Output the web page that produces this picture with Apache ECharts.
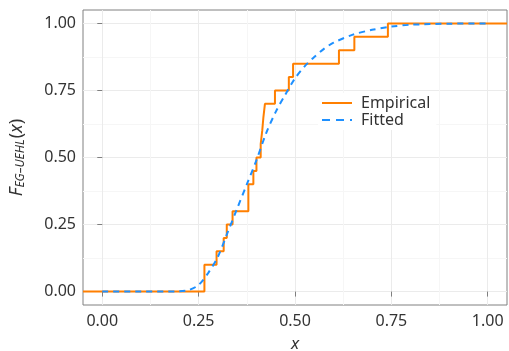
<!DOCTYPE html>
<html><head><meta charset="utf-8">
<script src="https://cdn.jsdelivr.net/npm/echarts@6/dist/echarts.min.js"></script>
<style>html,body{margin:0;padding:0;background:#fff}#c{width:509px;height:351px}</style>
</head><body><div id="c"></div>
<script>
// Empirical CDF jump points (x) and CDF values after each jump
const ecdfX = [-0.05, 0.265, 0.2965, 0.315, 0.323, 0.338, 0.379, 0.392, 0.400, 0.411, 0.415, 0.418, 0.422, 0.448, 0.484, 0.495, 0.614, 0.654, 0.741, 1.05];
const ecdfY = [0, 0.10, 0.15, 0.20, 0.25, 0.30, 0.40, 0.45, 0.50, 0.55, 0.60, 0.65, 0.70, 0.75, 0.80, 0.85, 0.90, 0.95, 1.00, 1.00];
// Fitted CDF
const fitX = [0, 0.1, 0.2, 0.225, 0.25, 0.275, 0.3, 0.325, 0.35, 0.375, 0.4, 0.425, 0.45, 0.475, 0.5, 0.525, 0.55, 0.575, 0.6, 0.65, 0.7, 0.75, 0.8, 0.9, 1.0];
const fitY = [0, 0, 0.001, 0.006, 0.025, 0.07, 0.13, 0.22, 0.31, 0.40, 0.49, 0.59, 0.67, 0.735, 0.795, 0.84, 0.875, 0.905, 0.928, 0.958, 0.976, 0.988, 0.995, 0.999, 1.0];
const majorTicks = [0, 0.25, 0.5, 0.75, 1.0];
const minorTicks = [0.125, 0.375, 0.625, 0.875];
const tickLabels = ['0.00', '0.25', '0.50', '0.75', '1.00'];
const seriesNames = ['Empirical', 'Fitted'];

const FONT = 'Noto Sans';
const fmt = v => { const i = majorTicks.findIndex(t => Math.abs(t - v) < 1e-9); return i >= 0 ? tickLabels[i] : ''; };
const lim = [-0.05, 1.05];

function mkAxis(isX, primary) {
  return {
    type: 'value', min: lim[0], max: lim[1], gridIndex: 0,
    position: isX ? 'bottom' : 'left', offset: 0,
    axisLine: { show: false },
    splitLine: { show: true, lineStyle: { color: primary ? '#ebebeb' : '#f6f6f6', width: 1 } },
    axisTick: primary ? { show: true, length: 5, lineStyle: { color: '#7f7f7f' }, customValues: majorTicks }
                      : { show: false, customValues: minorTicks },
    axisLabel: primary ? { show: true, customValues: majorTicks, formatter: fmt, color: '#333', fontFamily: FONT, fontSize: 16, margin: isX ? 8 : 7 }
                       : { show: false, customValues: minorTicks }
  };
}
const xMinor = mkAxis(true, false);
const xMajor = mkAxis(true, true);
xMajor.name = 'x';
xMajor.nameLocation = 'middle';
xMajor.nameGap = 31;
xMajor.nameTextStyle = { fontFamily: FONT, fontSize: 17, fontStyle: 'italic', color: '#333' };
const yMinor = mkAxis(false, false);
const yMajor = mkAxis(false, true);
yMajor.name = '{f|F}{s|EG\u2013UEHL}{p|(}{f|x}{p|)}';
yMajor.nameLocation = 'middle';
yMajor.nameGap = 56;
yMajor.nameRotate = 90;
yMajor.nameTextStyle = {
  color: '#333', fontFamily: FONT,
  rich: {
    f: { fontFamily: FONT, fontSize: 18, fontStyle: 'italic', color: '#333' },
    p: { fontFamily: FONT, fontSize: 18, color: '#333' },
    s: { fontFamily: FONT, fontSize: 12, fontStyle: 'italic', color: '#333', padding: [9, 1, 0, 0] }
  }
};

const chart = echarts.init(document.getElementById('c'), null, { renderer: 'canvas' });
chart.setOption({
  animation: false,
  backgroundColor: '#fff',
  grid: { left: 83, right: 2, top: 10, bottom: 46, show: true, borderColor: '#808080', borderWidth: 1, backgroundColor: 'transparent', outerBoundsMode: 'none', containLabel: false },
  xAxis: [xMinor, xMajor],
  yAxis: [yMinor, yMajor],
  legend: {
    left: 318, top: 93, orient: 'vertical', itemGap: 1, itemWidth: 30, itemHeight: 2,
    backgroundColor: '#fff', padding: [2, 6, 2, 4],
    textStyle: { fontFamily: FONT, fontSize: 16, color: '#333', padding: [0, 0, 0, 4] },
    data: [
      { name: seriesNames[0], icon: 'path://M0,0h30v2h-30z', itemStyle: { color: '#ff7f00' } },
      { name: seriesNames[1], icon: 'path://M0,0h8v2h-8z M14,0h8v2h-8z M28,0h2v2h-2z', itemStyle: { color: '#1e90ff' } }
    ]
  },
  series: [
    {
      name: seriesNames[0], type: 'line', xAxisIndex: 1, yAxisIndex: 1, step: 'end', symbol: 'none',
      lineStyle: { color: '#ff7f00', width: 2 }, itemStyle: { color: '#ff7f00' },
      data: ecdfX.map((x, i) => [x, ecdfY[i]])
    },
    {
      name: seriesNames[1], type: 'line', xAxisIndex: 1, yAxisIndex: 1, smooth: 0.3, symbol: 'none',
      lineStyle: { color: '#1e90ff', width: 2, type: [6, 5] }, itemStyle: { color: '#1e90ff' },
      data: fitX.map((x, i) => [x, fitY[i]])
    }
  ]
});
</script></body></html>
